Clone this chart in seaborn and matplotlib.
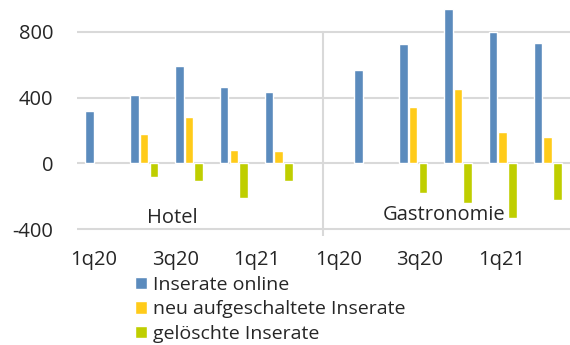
import numpy as np
import pandas as pd
import seaborn as sns
import matplotlib.pyplot as plt

# Quartale je Branche, Position 5 bleibt leer (Trenner)
quartale = ["1q20", "2q20", "3q20", "4q20", "1q21"]
branchen = ["Hotel", "Gastronomie"]

hotel_online = [316, 415, 590, 464, 434]
hotel_neu = [None, 178, 280, 81, 75]
hotel_geloescht = [None, -81, -107, -209, -107]

gastro_online = [568, 728, 939, 799, 732]
gastro_neu = [None, 343, 452, 189, 158]
gastro_geloescht = [None, -182, -239, -330, -223]

serien = ["Inserate online", "neu aufgeschaltete Inserate", "gelöschte Inserate"]
farben = ["#5b8bbd", "#ffcb1a", "#bfce00"]

tick_labels = ["1q20", "3q20", "1q21", "1q20", "3q20", "1q21"]


def daten_bauen():
    zeilen = []
    blocks = [
        (0, [hotel_online, hotel_neu, hotel_geloescht]),
        (6, [gastro_online, gastro_neu, gastro_geloescht]),
    ]
    for start, reihen in blocks:
        for name, werte in zip(serien, reihen):
            for i, w in enumerate(werte):
                if w is not None:
                    zeilen.append({"pos": start + i, "serie": name, "wert": w})
    return pd.DataFrame(zeilen)


df = daten_bauen()

sns.set_style("white")
plt.rcParams["font.family"] = ["Open Sans", "DejaVu Sans"]

fig = plt.figure(figsize=(5.7, 3.45), dpi=100)
ax = fig.add_axes([0.135, 0.317, 0.865, 0.667])

ax.yaxis.grid(True, color="#d9d9d9", linewidth=1.5, zorder=0)
ax.set_axisbelow(True)

sns.barplot(data=df, x="pos", y="wert", hue="serie", hue_order=serien,
            palette=farben, saturation=1, native_scale=True, width=0.65,
            gap=0.12, errorbar=None, legend=True, ax=ax, zorder=3)

ymin, ymax = -440, 960
ax.set_ylim(ymin, ymax)
ax.set_xlim(-0.5, 10.5)
ax.set_yticks([-400, 0, 400, 800])
ax.set_yticklabels(["-400", "0", "400", "800"])

# Trennlinie zwischen Hotel und Gastronomie
ax.axvline(5, ymin=0, ymax=(800 - ymin) / (ymax - ymin), color="#d9d9d9",
           linewidth=1.5, zorder=1)

ax.text(1.63, -335, "Hotel", ha="center", va="center", fontsize=14.5)
ax.text(7.7, -312, "Gastronomie", ha="center", va="center", fontsize=14.5)

ax.set_xticks([-0.12, 1.7, 3.5, 5.35, 7.15, 8.97])
ax.set_xticklabels(tick_labels)
ax.tick_params(axis="x", length=0, pad=10, labelsize=14.5)
ax.tick_params(axis="y", length=0, pad=17, labelsize=14.5)
ax.set_xlabel("")
ax.set_ylabel("")
sns.despine(ax=ax, left=True, bottom=True)

handles, labels = ax.get_legend_handles_labels()
ax.get_legend().remove()
fig.legend(handles, labels, loc="upper left", bbox_to_anchor=(0.237, 0.2),
           frameon=False, fontsize=14, handlelength=0.6, handleheight=0.6,
           handletextpad=0.3, labelspacing=0.33, borderpad=0, borderaxespad=0)

fig.savefig("out.png", dpi=100)
